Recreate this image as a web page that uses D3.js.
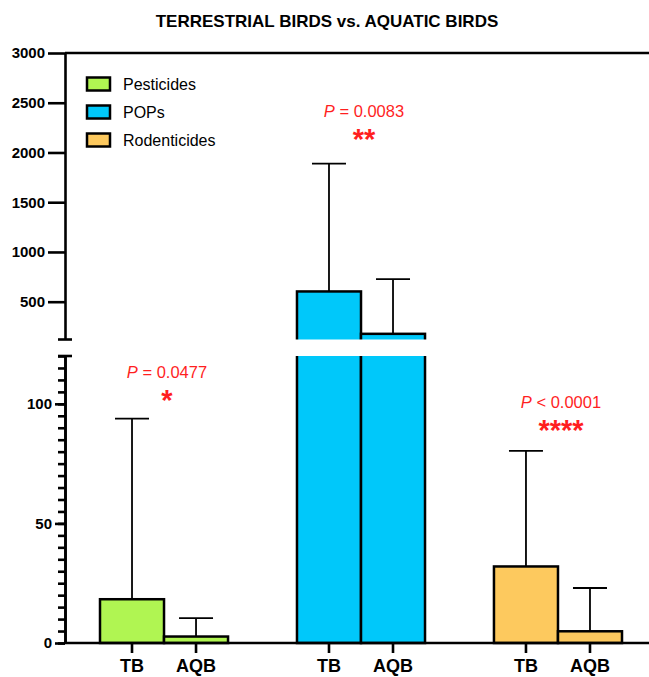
<!DOCTYPE html>
<html>
<head>
<meta charset="utf-8">
<script src="https://cdn.jsdelivr.net/npm/d3@7"></script>
<style>
  body { margin: 0; background: #fff; }
  svg { font-family: "Liberation Sans", Arial, Helvetica, sans-serif; }
</style>
</head>
<body>
<div id="chart"></div>
<script>
// data
var groups = ["Pesticides", "POPs", "Rodenticides"];
var birdTypes = ["TB", "AQB"];
var colors = ["#b0f552", "#00c8fa", "#fdc95e"];
var means = [[18.3, 2.7], [603, 177], [32, 4.9]];
var sds = [[75.5, 7.7], [1284, 550], [48.3, 18.1]];
var pLabels = ["= 0.0477", "= 0.0083", "< 0.0001"];
var stars = ["*", "**", "****"];
var upperTicks = [500, 1000, 1500, 2000, 2500, 3000];
var lowerTicks = [0, 50, 100];
var breakValue = 120;

var width = 649, height = 677;
var axisX = 65;

var svg = d3.select("#chart")
  .append("svg")
  .attr("width", width)
  .attr("height", height);

// two y segments (broken axis)
var yUp = d3.scaleLinear().domain([breakValue, 3000]).range([339.5, 53]);
var yLow = d3.scaleLinear().domain([0, breakValue]).range([643, 356]);

var x = d3.scaleBand()
  .domain(groups)
  .range([100, 622])
  .paddingInner(0.35)
  .paddingOuter(0);

var xSub = d3.scaleBand()
  .domain(birdTypes)
  .range([0, x.bandwidth()]);

var rows = [];
groups.forEach(function (g, i) {
  birdTypes.forEach(function (b, j) {
    rows.push({ group: g, type: b, mean: means[i][j], sd: sds[i][j], color: colors[i] });
  });
});

function yPos(v) {
  return v <= breakValue ? yLow(v) : yUp(v);
}

// title
svg.append("text")
  .attr("x", 327)
  .attr("y", 27)
  .attr("text-anchor", "middle")
  .attr("font-weight", "bold")
  .attr("font-size", 17)
  .text("TERRESTRIAL BIRDS vs. AQUATIC BIRDS");

// bars
var bars = svg.append("g");
rows.forEach(function (d) {
  var bx = x(d.group) + xSub(d.type);
  if (d.mean <= breakValue) {
    bars.append("rect")
      .attr("x", bx)
      .attr("y", yLow(d.mean))
      .attr("width", xSub.bandwidth())
      .attr("height", yLow(0) - yLow(d.mean))
      .attr("fill", d.color)
      .attr("stroke", "#000")
      .attr("stroke-width", 2.5);
  } else {
    bars.append("rect")
      .attr("x", bx)
      .attr("y", yLow(breakValue) - 8)
      .attr("width", xSub.bandwidth())
      .attr("height", yLow(0) - yLow(breakValue) + 8)
      .attr("fill", d.color)
      .attr("stroke", "#000")
      .attr("stroke-width", 2.5);
    bars.append("rect")
      .attr("x", bx)
      .attr("y", yUp(d.mean))
      .attr("width", xSub.bandwidth())
      .attr("height", yUp(breakValue) + 8 - yUp(d.mean))
      .attr("fill", d.color)
      .attr("stroke", "#000")
      .attr("stroke-width", 2.5);
  }
});

// white gap of the axis break
svg.append("rect")
  .attr("x", 0)
  .attr("y", yUp(breakValue))
  .attr("width", width)
  .attr("height", yLow(breakValue) - yUp(breakValue))
  .attr("fill", "#fff");

// error bars (upper only)
var errs = svg.append("g").attr("stroke", "#000").attr("stroke-width", 1.8);
rows.forEach(function (d) {
  var cx = x(d.group) + xSub(d.type) + xSub.bandwidth() / 2;
  var top = d.mean + d.sd;
  errs.append("line")
    .attr("x1", cx).attr("x2", cx)
    .attr("y1", yPos(d.mean)).attr("y2", yPos(top));
  errs.append("line")
    .attr("x1", cx - 17).attr("x2", cx + 17)
    .attr("y1", yPos(top)).attr("y2", yPos(top));
});

// upper y axis
svg.append("g")
  .attr("transform", "translate(" + axisX + ",0)")
  .call(d3.axisLeft(yUp).tickValues(upperTicks).tickSize(17).tickSizeOuter(0)
    .tickPadding(3).tickFormat(d3.format("d")));

// lower y axis, minor ticks then major ticks
var minorTicks = d3.range(0, breakValue + 1, 5);
svg.append("g")
  .attr("transform", "translate(" + axisX + ",0)")
  .call(d3.axisLeft(yLow).tickValues(minorTicks).tickSize(7).tickSizeOuter(0).tickFormat(""));
svg.append("g")
  .attr("transform", "translate(" + axisX + ",0)")
  .call(d3.axisLeft(yLow).tickValues(lowerTicks).tickSize(10).tickSizeOuter(0)
    .tickPadding(3).tickFormat(d3.format("d")));

svg.selectAll(".domain").attr("stroke-width", 2.6);
svg.selectAll(".tick line").attr("stroke-width", 2.6);
svg.selectAll(".tick text")
  .attr("font-size", 15)
  .attr("font-weight", "bold")
  .attr("font-family", "'Liberation Sans', Arial, sans-serif")
  .attr("fill", "#000");

// break caps
[yUp(breakValue), yLow(breakValue)].forEach(function (yy) {
  svg.append("line")
    .attr("x1", axisX - 7).attr("x2", axisX + 7)
    .attr("y1", yy).attr("y2", yy)
    .attr("stroke", "#000").attr("stroke-width", 2.6);
});

// top frame line at 3000 and baseline at 0
svg.append("line")
  .attr("x1", axisX).attr("x2", width)
  .attr("y1", yUp(3000)).attr("y2", yUp(3000))
  .attr("stroke", "#000").attr("stroke-width", 2.6);
svg.append("line")
  .attr("x1", axisX - 1).attr("x2", width)
  .attr("y1", yLow(0)).attr("y2", yLow(0))
  .attr("stroke", "#000").attr("stroke-width", 2.6);

// category axis (TB / AQB under each group)
groups.forEach(function (g) {
  var ax = svg.append("g")
    .attr("transform", "translate(" + x(g) + "," + yLow(0) + ")")
    .call(d3.axisBottom(xSub).tickSize(10).tickSizeOuter(0).tickPadding(6));
  ax.select(".domain").remove();
  ax.selectAll(".tick line").attr("stroke-width", 2.6);
  ax.selectAll(".tick text")
    .attr("font-size", 18)
    .attr("font-weight", "bold")
    .attr("font-family", "'Liberation Sans', Arial, sans-serif")
    .attr("fill", "#000");
});

// significance annotations
var annY = { Pesticides: 378, POPs: 117, Rodenticides: 408 };
groups.forEach(function (g, i) {
  var cx = x(g) + x.bandwidth() / 2 + 3;
  var t = svg.append("text")
    .attr("x", cx)
    .attr("y", annY[g])
    .attr("text-anchor", "middle")
    .attr("font-size", 16.5)
    .attr("fill", "#ff1f1f");
  t.append("tspan").attr("font-style", "italic").text("P");
  t.append("tspan").text(" " + pLabels[i]);
  svg.append("text")
    .attr("x", cx)
    .attr("y", annY[g] + 32)
    .attr("text-anchor", "middle")
    .attr("font-size", 29)
    .attr("font-weight", "bold")
    .attr("fill", "#ff1f1f")
    .text(stars[i]);
});

// legend
var legend = svg.append("g");
groups.forEach(function (g, i) {
  var ly = 84 + i * 28;
  legend.append("rect")
    .attr("x", 87)
    .attr("y", ly - 6.5)
    .attr("width", 23)
    .attr("height", 13)
    .attr("fill", colors[i])
    .attr("stroke", "#000")
    .attr("stroke-width", 2.5);
  legend.append("text")
    .attr("x", 123)
    .attr("y", ly)
    .attr("dy", "0.36em")
    .attr("font-size", 16)
    .text(g);
});
</script>
</body>
</html>
